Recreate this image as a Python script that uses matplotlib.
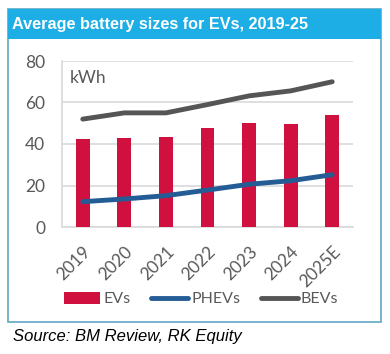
"""Average battery sizes for EVs, 2019-25 - bar + line combo."""

import matplotlib

matplotlib.use("Agg")
import matplotlib.pyplot as plt
from matplotlib.patches import Rectangle
from matplotlib.lines import Line2D

years = ["2019", "2020", "2021", "2022", "2023", "2024", "2025E"]
evs = [42.4, 42.9, 43.4, 47.7, 50.3, 49.6, 54.0]
phevs = [12.2, 13.5, 15.1, 17.8, 20.6, 22.3, 25.2]
bevs = [52.0, 55.0, 55.0, 59.0, 63.2, 65.6, 70.0]
y_ticks = [0, 20, 40, 60, 80]

RED = "#D0103F"
BLUE = "#245C96"
GREY = "#555555"
TXT = "#595959"

W, H = 390, 354
fig = plt.figure(figsize=(W / 100, H / 100), dpi=100)
fig.patch.set_facecolor("white")

# outer frame + title bar
fig.add_artist(Rectangle((8 / W, 1 - 322 / H), 373 / W, 313 / H, transform=fig.transFigure,
                         facecolor="none", edgecolor="#5FA8C4", linewidth=1.2))
fig.add_artist(Rectangle((8 / W, 1 - 39 / H), 373 / W, 30 / H, transform=fig.transFigure,
                         facecolor="#1DAEE5", edgecolor="none"))
fig.text(12 / W, 1 - 24.5 / H, "Average battery sizes for EVs, 2019-25", color="white",
         fontsize=11.7, fontweight="bold", family="Liberation Sans", va="center", ha="left")
fig.text(13 / W, 1 - 337 / H, "Source: BM Review, RK Equity", color="black",
         fontsize=12, style="italic", family="Liberation Sans", va="center", ha="left")

ax = fig.add_axes([62 / W, 1 - 227 / H, 291 / W, 166 / H])
x = range(len(years))
ax.bar(x, evs, width=0.33, color=RED, zorder=3)
ax.plot(x, phevs, color=BLUE, linewidth=3.5, solid_capstyle="round", zorder=4)
ax.plot(x, bevs, color=GREY, linewidth=3.5, solid_capstyle="round", zorder=4)

ax.set_ylim(0, 80)
ax.set_xlim(-0.5, len(years) - 0.5)
ax.set_yticks(y_ticks)
ax.set_xticks(list(x))
ax.set_xticklabels(years, rotation=45, ha="right", rotation_mode="anchor")
ax.tick_params(length=0, labelsize=12.5, colors=TXT)
ax.tick_params(axis="y", pad=12)
ax.tick_params(axis="x", pad=12)
for lbl in ax.get_xticklabels() + ax.get_yticklabels():
    lbl.set_family("Lato")
ax.grid(axis="y", color="#D9D9D9", linewidth=1.2, zorder=0)
for side in ["top", "right"]:
    ax.spines[side].set_visible(False)
ax.spines["left"].set_color("#D9D9D9")
ax.spines["bottom"].set_color("#D9D9D9")
ax.spines["left"].set_linewidth(1.2)
ax.spines["bottom"].set_linewidth(1.2)
ax.text(0.025, 0.9, "kWh", transform=ax.transAxes, fontsize=12.5, color=TXT,
        family="Lato", va="center")

handles = [
    Rectangle((0, 0), 1, 1, facecolor=RED),
    Line2D([], [], color=BLUE, linewidth=3.5, solid_capstyle="round"),
    Line2D([], [], color=GREY, linewidth=3.5, solid_capstyle="round"),
]
leg = fig.legend(handles, ["EVs", "PHEVs", "BEVs"], loc="center",
                 bbox_to_anchor=(201 / W, 1 - 299 / H), ncol=3, frameon=False,
                 handlelength=2.3, handleheight=0.8, handletextpad=0.2,
                 columnspacing=1.3, prop={"family": "Lato", "size": 11.5})
for t in leg.get_texts():
    t.set_color(TXT)

fig.savefig("out.png", dpi=100, facecolor="white")
